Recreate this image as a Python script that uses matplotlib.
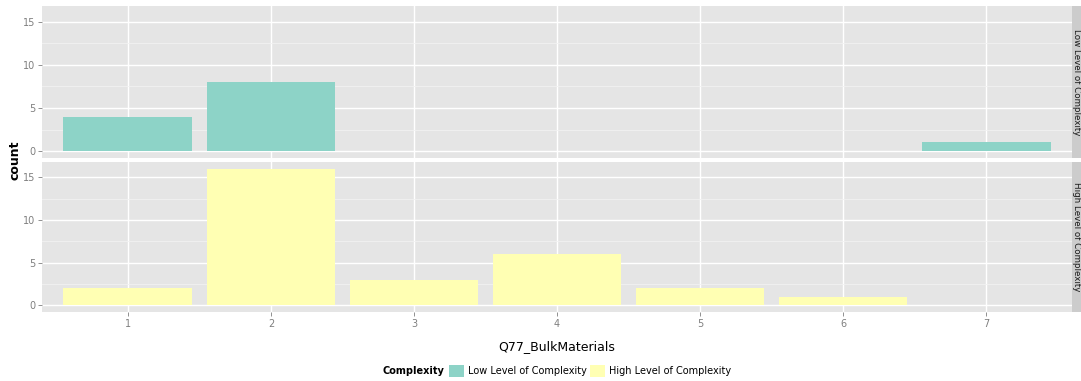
import matplotlib
matplotlib.use("Agg")
import matplotlib.pyplot as plt
from matplotlib.patches import Patch, Rectangle

# Counts of Q77_BulkMaterials responses, split by complexity group
categories = [1, 2, 3, 4, 5, 6, 7]
low_counts = [4, 8, 0, 0, 0, 0, 1]
high_counts = [2, 16, 3, 6, 2, 1, 0]
groups = ["Low Level of Complexity", "High Level of Complexity"]
colors = ["#8DD3C7", "#FFFFB3"]
y_ticks = [0, 5, 10, 15]

W, H = 1081, 381
fig = plt.figure(figsize=(W / 100, H / 100), dpi=100)
fig.patch.set_facecolor("white")

def px(x0, y0, x1, y1):
    return [x0 / W, 1 - y1 / H, (x1 - x0) / W, (y1 - y0) / H]

panel_boxes = [px(42, 6, 1072, 158), px(42, 162, 1072, 312)]
series = [low_counts, high_counts]

axes = []
for i, (box, counts, color, label) in enumerate(zip(panel_boxes, series, colors, groups)):
    ax = fig.add_axes(box)
    ax.set_facecolor("#E5E5E5")
    xs = [c for c, v in zip(categories, counts) if v > 0]
    vs = [v for v in counts if v > 0]
    ax.bar(xs, vs, width=0.9, color=color, zorder=3)
    ax.set_xlim(0.4, 7.6)
    ax.set_ylim(-0.8, 16.8)
    ax.set_yticks(y_ticks)
    ax.set_yticks([2.5, 7.5, 12.5], minor=True)
    ax.set_xticks(categories)
    ax.grid(which="major", color="white", linewidth=1.0, zorder=1)
    ax.grid(which="minor", axis="y", color="#F2F2F2", linewidth=0.6, zorder=1)
    for s in ax.spines.values():
        s.set_visible(False)
    ax.tick_params(which="major", colors="#7F7F7F", labelcolor="#7F7F7F",
                   labelsize=7, length=3, width=0.6, pad=2)
    ax.tick_params(which="minor", length=0)
    if i == 0:
        ax.tick_params(axis="x", length=0, labelbottom=False)
    # facet strip on the right
    strip = Rectangle((1072 / W, box[1]), 20 / W, box[3], transform=fig.transFigure,
                      facecolor="#CCCCCC", edgecolor="none", clip_on=False)
    fig.add_artist(strip)
    fig.text(1076.5 / W, box[1] + box[3] / 2, label, rotation=-90, ha="center",
             va="center", fontsize=6.3, color="#1A1A1A")
    axes.append(ax)

fig.text(15 / W, 1 - 160 / H, "count", rotation=90, ha="center", va="center",
         fontsize=9, fontweight="bold")
fig.text(557 / W, 1 - 347 / H, "Q77_BulkMaterials", ha="center", va="center",
         fontsize=9)

fig.text(413 / W, 1 - 371 / H, "Complexity", ha="center", va="center",
         fontsize=7, fontweight="bold")
handles = [Patch(facecolor=c, edgecolor="none") for c in colors]
fig.legend(handles, groups, ncol=2, frameon=False, loc="center",
           bbox_to_anchor=(590 / W, 1 - 371 / H), fontsize=7,
           handlelength=1.6, handleheight=1.6, handletextpad=0.4,
           columnspacing=0.3, borderaxespad=0)

fig.savefig("out.png", dpi=100)
